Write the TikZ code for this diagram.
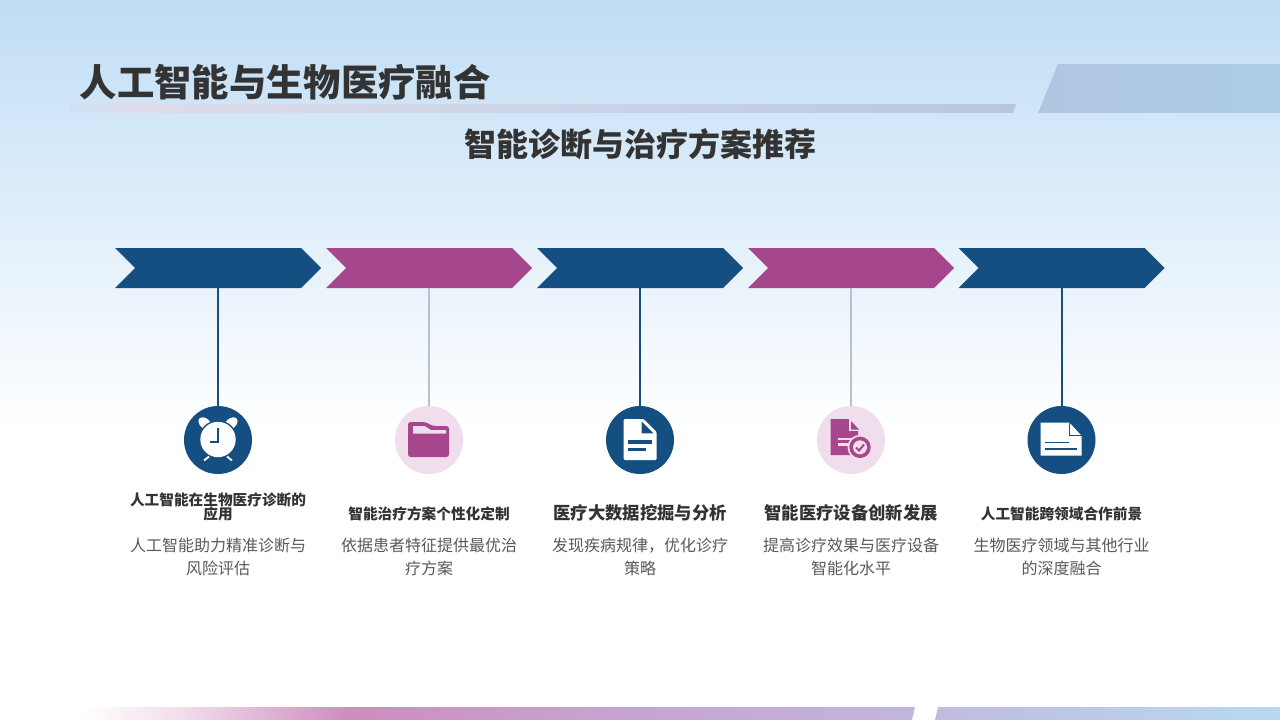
\documentclass[tikz,border=0pt]{standalone}
\usepackage{fontspec}
\setmainfont{Noto Sans CJK SC}
\usetikzlibrary{calc}
\definecolor{navy}{HTML}{154E80}
\definecolor{mag}{HTML}{A6478E}
\definecolor{pale}{HTML}{F0DEEC}
\definecolor{ink}{HTML}{333333}
\definecolor{soft}{HTML}{595959}
\definecolor{lineg}{HTML}{B4C3D3}
\pgfdeclareverticalshading{bgsh}{100bp}{rgb(0bp)=(1,1,1); rgb(25bp)=(1,1,1); rgb(75bp)=(0.753,0.867,0.961); rgb(100bp)=(0.753,0.867,0.961)}
\definecolor{u0}{HTML}{CCE3F7}\definecolor{u1}{HTML}{DFDBEA}\definecolor{u2}{HTML}{CBD5E8}\definecolor{u3}{HTML}{B8C6E0}
\pgfdeclarehorizontalshading{underbar}{100bp}{color(0bp)=(u0); color(25bp)=(u0); color(28bp)=(u1); color(50bp)=(u2); color(75bp)=(u3); color(100bp)=(u3)}
\definecolor{p0}{HTML}{B0C5E0}\definecolor{p1}{HTML}{AECDE6}
\pgfdeclarehorizontalshading{cornerbar}{100bp}{color(0bp)=(p0); color(25bp)=(p0); color(75bp)=(p1); color(100bp)=(p1)}
\definecolor{b0}{HTML}{FFFFFF}\definecolor{b1}{HTML}{F1DDEB}\definecolor{b2}{HTML}{CE8DBD}\definecolor{b3}{HTML}{C6A2CD}\definecolor{b4}{HTML}{C2B6DE}
\pgfdeclarehorizontalshading{foota}{100bp}{color(0bp)=(b0); color(25bp)=(b0); color(31bp)=(b1); color(41bp)=(b2); color(55bp)=(b3); color(75bp)=(b4); color(100bp)=(b4)}
\definecolor{c0}{HTML}{C0BCE0}\definecolor{c1}{HTML}{B8D9F2}
\pgfdeclarehorizontalshading{footb}{100bp}{color(0bp)=(c0); color(25bp)=(c0); color(75bp)=(c1); color(100bp)=(c1)}
\tikzset{
  x=0.75pt,y=-0.75pt,
  chevbox/.style={minimum width=154.5pt,minimum height=30pt,inner sep=0pt,outer sep=0pt},
  dot/.style={circle,minimum size=51pt,inner sep=0pt,outer sep=0pt},
  navydot/.style={dot,fill=navy},
  paledot/.style={dot,fill=pale},
  navyline/.style={draw=navy,line width=1.5pt},
  paleline/.style={draw=lineg,line width=1.5pt},
  heading/.style={font=\fontsize{11pt}{10pt}\selectfont\bfseries,text=ink,align=center,inner sep=0pt},
  headingbig/.style={font=\fontsize{13pt}{13pt}\selectfont\bfseries,text=ink,align=center,inner sep=0pt},
  bodytext/.style={font=\fontsize{12pt}{17.25pt}\selectfont,text=soft,align=center,inner sep=0pt},
}
\newcommand{\chev}[2]{\fill[#2] ($(#1.west)+(0,-20)$) -- ++(186,0) -- ($(#1.east)$) -- ($(#1.east)+(-20,20)$) -- ($(#1.west)+(0,20)$) -- ($(#1.west)+(20,0)$) -- cycle;}
\begin{document}
\begin{tikzpicture}
\useasboundingbox (0,0) rectangle (1280,720);
\fill[white] (0,0) rectangle (1280,720);
\shade[shading=bgsh] (0,0) rectangle (1280,430);
% decorative bars
\shade[shading=underbar] (70,104) -- (1016,104) -- (1013,113) -- (70,113) -- cycle;
\shade[shading=cornerbar] (1058,64) -- (1280,64) -- (1280,113) -- (1038,113) -- cycle;
\shade[shading=foota] (82,707) -- (915,707) -- (912,720) -- (82,720) -- cycle;
\shade[shading=footb] (938,707) -- (1280,707) -- (1280,720) -- (935,720) -- cycle;
% titles
\node[anchor=west,inner sep=0pt,text=ink,font=\fontsize{28pt}{30pt}\selectfont\bfseries] (title) at (79.5,82) {人工智能与生物医疗融合};
\node[inner sep=0pt,text=ink,font=\fontsize{24pt}{28pt}\selectfont\bfseries] (subtitle) at (640,144) {智能诊断与治疗方案推荐};
% chevrons
\node[chevbox] (a1) at (218,268) {};
\node[chevbox] (a2) at (429,268) {};
\node[chevbox] (a3) at (640,268) {};
\node[chevbox] (a4) at (851,268) {};
\node[chevbox] (a5) at (1061.5,268) {};
\chev{a1}{navy}\chev{a2}{mag}\chev{a3}{navy}\chev{a4}{mag}\chev{a5}{navy}
% circles
\node[navydot] (i1) at (218,440) {};
\node[paledot] (i2) at (429,440) {};
\node[navydot] (i3) at (640,440) {};
\node[paledot] (i4) at (851,440) {};
\node[navydot] (i5) at (1061.5,440) {};
\draw[navyline] (a1.south) -- (i1.north);
\draw[paleline] (a2.south) -- (i2.north);
\draw[navyline] (a3.south) -- (i3.north);
\draw[paleline] (a4.south) -- (i4.north);
\draw[navyline] (a5.south) -- (i5.north);
% clock icon
\fill[white,rotate around={-40:(205,423.5)}] (205,423.5) ellipse (7.5 and 5);
\fill[white,rotate around={40:(231,423.5)}] (231,423.5) ellipse (7.5 and 5);
\fill[navy] (218,439.5) circle (19.2);
\fill[white] (218,439.5) circle (17.7);
\draw[navy,line width=1.2pt] (218,428) -- (218,442) -- (210,442);
\draw[white,line width=1.4pt] (209,456.5) -- (204,460.5);
\draw[white,line width=1.4pt] (227,456.5) -- (232,460.5);
% folder icon
\fill[mag,rounded corners=2pt] (408,422) -- (425,422) -- (433,426) -- (449,426) -- (449,457) -- (408,457) -- cycle;
\fill[pale] (413,426) -- (424.5,426) -- (431,430) -- (446,430) -- (446,433.5) -- (413,433.5) -- cycle;
% document icon
\fill[white,rounded corners=1pt] (623.5,419) -- (643.5,419) -- (656.7,432) -- (656.7,460) -- (623.5,460) -- cycle;
\fill[navy] (641.7,421.5) -- (641.7,433.3) -- (653.3,433.3) -- cycle;
\fill[navy] (627.5,440) rectangle (652.3,443.5);
\fill[navy] (627.5,447.5) rectangle (645.7,451);
% checked document icon
\fill[mag] (830.7,419) -- (850,419) -- (858,428) -- (858,455) -- (830.7,455) -- cycle;
\fill[pale] (849,419) -- (849,431) -- (859,431) -- (859,419) -- cycle;
\fill[mag] (851,421) -- (851,429.5) -- (859,429.5) -- cycle;
\fill[pale] (838,437.5) rectangle (855,440);
\fill[pale] (838,443) rectangle (850,445.5);
\fill[pale] (860,447.3) circle (12.5);
\fill[mag] (860,447.3) circle (10.7);
\fill[pale] (860,447.3) circle (7);
\draw[mag,line width=1.5pt] (856,447.5) -- (859,450.5) -- (864,444.5);
% note icon
\fill[white] (1040.7,422.7) -- (1069.5,422.7) -- (1081.7,436) -- (1081.7,455.7) -- (1040.7,455.7) -- cycle;
\draw[navy,line width=0.6pt] (1069.5,422.7) -- (1069.5,435.7) -- (1081.7,435.7);
\draw[navy,line width=1pt] (1045,442.3) -- (1068.5,442.3);
\draw[navy,line width=1pt] (1045,449) -- (1077,449);
% labels
\node[heading] (h1) at (218,507) {人工智能在生物医疗诊断的\\[-1pt]应用};
\node[heading] (h2) at (429,514) {智能治疗方案个性化定制};
\node[headingbig] (h3) at (640,513) {医疗大数据挖掘与分析};
\node[headingbig] (h4) at (851,513) {智能医疗设备创新发展};
\node[heading] (h5) at (1061.5,514) {人工智能跨领域合作前景};
\node[bodytext] (t1) at (218,556.5) {人工智能助力精准诊断与\\风险评估};
\node[bodytext] (t2) at (429,556.5) {依据患者特征提供最优治\\疗方案};
\node[bodytext] (t3) at (640,556.5) {发现疾病规律，优化诊疗\\策略};
\node[bodytext] (t4) at (851,556.5) {提高诊疗效果与医疗设备\\智能化水平};
\node[bodytext] (t5) at (1061.5,556.5) {生物医疗领域与其他行业\\的深度融合};
\end{tikzpicture}
\end{document}
